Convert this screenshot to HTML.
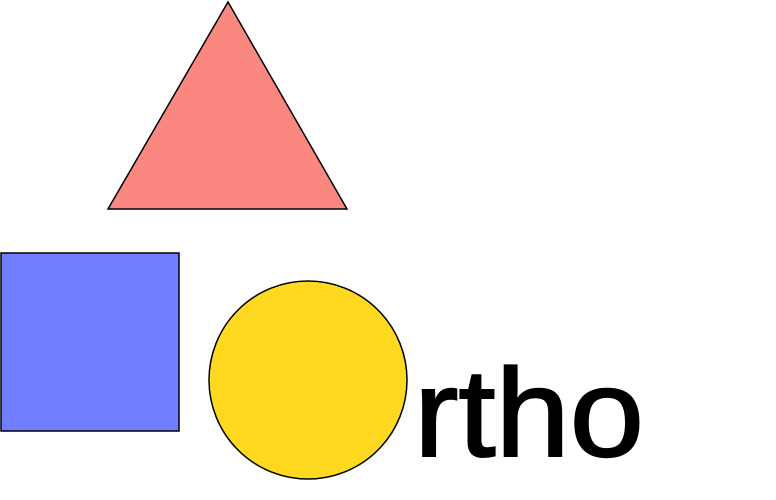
<!DOCTYPE html>
<html><head><meta charset="utf-8"><style>
html,body{margin:0;padding:0;background:#fff;}
svg{display:block;}
</style></head><body>
<svg width="776" height="500" viewBox="0 0 776 500">
  <polygon points="228,2 108,209 347,209" fill="#fa8880" stroke="#000" stroke-width="1.5"/>
  <rect x="1" y="253" width="178" height="178" fill="#6f7dff" stroke="#000" stroke-width="1.5"/>
  <circle cx="308" cy="380" r="99" fill="#ffd91f" stroke="#000" stroke-width="1.5"/>
  <text x="414" y="456" font-family="Liberation Sans, sans-serif" font-size="125" textLength="230" lengthAdjust="spacingAndGlyphs" fill="#000" stroke="#000" stroke-width="2">rtho</text>
</svg>
</body></html>
